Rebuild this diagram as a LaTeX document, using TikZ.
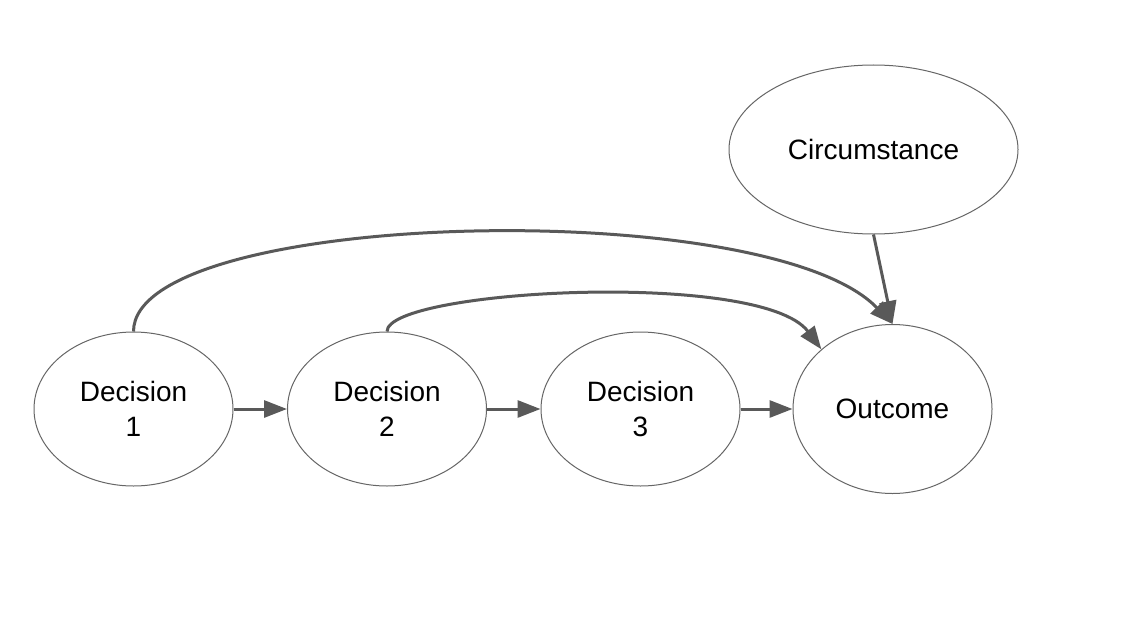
\documentclass[tikz,border=0pt]{standalone}
\usepackage{fontspec}
\setmainfont{Liberation Sans}
\usetikzlibrary{shapes.geometric,arrows.meta}
\definecolor{cgray}{HTML}{595959}
\definecolor{egray}{HTML}{666666}
\tikzset{
  oval/.style={ellipse, draw=egray, line width=1pt, inner sep=0pt, align=center,
    font=\fontsize{28}{35}\selectfont, text=black},
  conn/.style={draw=cgray, line width=3pt, -{Triangle[length=23pt,width=17pt]}},
}
\begin{document}
\begin{tikzpicture}[x=1pt,y=-1pt]
\useasboundingbox[fill=white] (0,0) rectangle (1123,623);
\node[oval, minimum width=199pt, minimum height=154pt] (d1) at (133.5,409) {Decision\\1};
\node[oval, minimum width=199pt, minimum height=154pt] (d2) at (387,409) {Decision\\2};
\node[oval, minimum width=199pt, minimum height=154pt] (d3) at (640.5,409) {Decision\\3};
\node[oval, minimum width=199pt, minimum height=169pt] (out) at (892.5,409) {Outcome};
\node[oval, minimum width=289pt, minimum height=169pt] (circ) at (873.5,149.5) {Circumstance};
\draw[conn] (d1.east) -- (d2.west);
\draw[conn] (d2.east) -- (d3.west);
\draw[conn] (d3.east) -- (out.west);
\draw[conn] (circ.south) -- (out.north);
\draw[conn] (d1.north) .. controls +(0,-122) and +(-125,-130) .. (out.north);
\draw[conn] (d2.north) .. controls +(0,-42) and +(-60,-80) .. (out.140);
\end{tikzpicture}
\end{document}
